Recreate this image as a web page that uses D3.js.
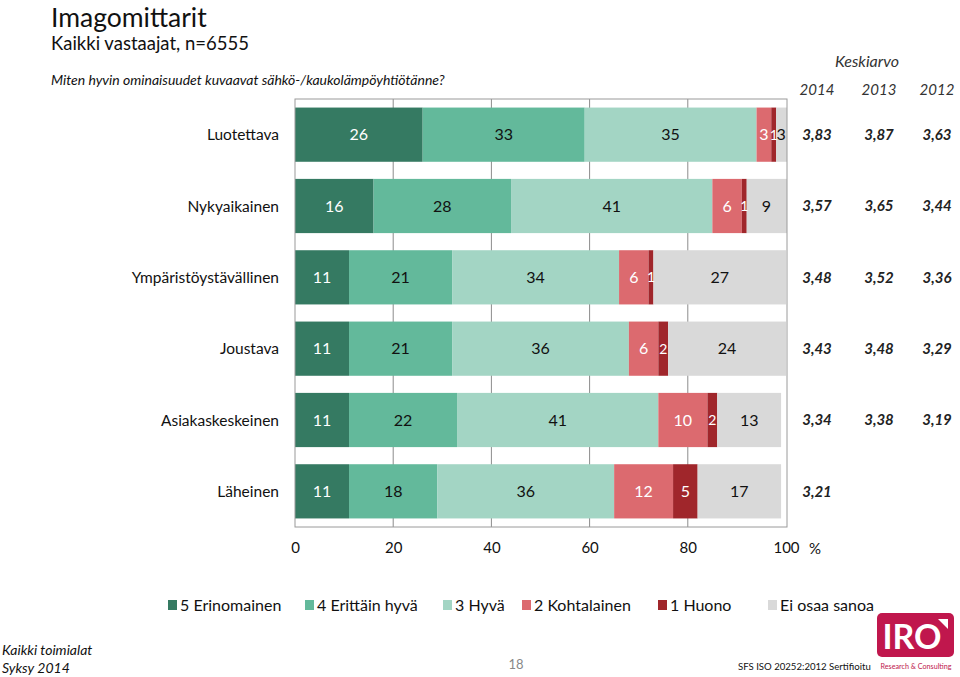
<!DOCTYPE html>
<html><head><meta charset="utf-8">
<script src="https://cdn.jsdelivr.net/npm/d3@7"></script>
<style>
body{margin:0;background:#fff;}
svg{display:block;font-family:Lato,"Open Sans",sans-serif;}
</style></head>
<body><svg id="c" width="960" height="677"></svg>
<script>
const categories = ["Luotettava","Nykyaikainen","Ympäristöystävällinen","Joustava","Asiakaskeskeinen","Läheinen"];
const seriesNames = ["5 Erinomainen","4 Erittäin hyvä","3 Hyvä","2 Kohtalainen","1 Huono","Ei osaa sanoa"];
const s5 = [26,16,11,11,11,11];
const s4 = [33,28,21,21,22,18];
const s3 = [35,41,34,36,41,36];
const s2 = [3,6,6,6,10,12];
const s1 = [1,1,1,2,2,5];
const sEOS = [3,9,27,24,13,17];
const years = ["2014","2013","2012"];
const mean2014 = ["3,83","3,57","3,48","3,43","3,34","3,21"];
const mean2013 = ["3,87","3,65","3,52","3,48","3,38",""];
const mean2012 = ["3,63","3,44","3,36","3,29","3,19",""];
const xTicks = [0,20,40,60,80,100];

const colors = ["#357a62","#63b99b","#a3d5c4","#dc6a6f","#a0262b","#d9d9d9"];
const labelColors = ["#fff","#111","#111","#fff","#fff","#111"];
const series = [s5,s4,s3,s2,s1,sEOS];

const svg = d3.select("#c");
const L=295, R=786, T=99, B=527;
const x = d3.scaleLinear().domain([0,100]).range([L,R]);
const y = d3.scaleBand().domain(categories).range([T,B]).paddingInner(0.24).paddingOuter(0.12);

// titles
svg.append("text").attr("x",51).attr("y",27).attr("font-size",26.5).attr("fill","#111").text("Imagomittarit");
svg.append("text").attr("x",51).attr("y",50).attr("font-size",18.5).attr("fill","#111").text("Kaikki vastaajat, n=6555");
svg.append("text").attr("x",51).attr("y",85).attr("font-size",14).attr("font-style","italic").attr("fill","#111").text("Miten hyvin ominaisuudet kuvaavat sähkö-/kaukolämpöyhtiötänne?");

// gridlines
svg.append("g").selectAll("line").data(xTicks.filter(d=>d>0&&d<100)).join("line")
  .attr("x1",d=>x(d)).attr("x2",d=>x(d)).attr("y1",T).attr("y2",B)
  .attr("stroke","#8c8c8c").attr("stroke-width",1);

// clip
svg.append("clipPath").attr("id","clip").append("rect").attr("x",L).attr("y",T).attr("width",R-L+1).attr("height",B-T);

// bars
const stackData = categories.map((c,i)=>{ const o={cat:c}; series.forEach((s,k)=>o["k"+k]=s[i]); return o;});
const stack = d3.stack().keys(series.map((s,k)=>"k"+k))(stackData);
const gBars = svg.append("g").attr("clip-path","url(#clip)");
stack.forEach((layer,k)=>{
  gBars.append("g").selectAll("rect").data(layer).join("rect")
    .attr("x",d=>x(d[0])).attr("width",d=>x(d[1])-x(d[0]))
    .attr("y",d=>y(d.data.cat)).attr("height",y.bandwidth())
    .attr("fill",colors[k]);
});
stack.forEach((layer,k)=>{
  svg.append("g").selectAll("text").data(layer).join("text")
    .attr("x",d=>(x(d[0])+x(Math.min(d[1],100)))/2).attr("y",d=>y(d.data.cat)+y.bandwidth()/2)
    .attr("dy","0.36em").attr("text-anchor","middle").attr("font-size",d=>(x(d[1])-x(d[0]))<10?14:16)
    .attr("fill",labelColors[k]).text(d=>d[1]-d[0]);
});

// frame
svg.append("rect").attr("x",L).attr("y",T).attr("width",R-L+1).attr("height",B-T)
  .attr("fill","none").attr("stroke","#9a9a9a").attr("stroke-width",1);

// category labels
svg.append("g").selectAll("text").data(categories).join("text")
  .attr("x",279).attr("y",d=>y(d)+y.bandwidth()/2).attr("dy","0.36em")
  .attr("text-anchor","end").attr("font-size",15.5).attr("fill","#111").text(d=>d);

// x axis
const ax = svg.append("g").attr("transform",`translate(0,${B})`).call(d3.axisBottom(x).tickValues(xTicks).tickSize(0).tickPadding(15));
ax.select(".domain").remove();
ax.selectAll("text").attr("font-size",15).attr("fill","#111").attr("font-family","Lato,sans-serif");
svg.append("text").attr("x",815).attr("y",B+22).attr("dy","0.36em").attr("text-anchor","middle").attr("font-size",15).attr("fill","#111").text("%");

// means
const meanX = [817,879,937];
svg.append("text").attr("x",867).attr("y",61).attr("dy","0.36em").attr("text-anchor","middle").attr("font-size",16).attr("font-style","italic").attr("fill","#333").text("Keskiarvo");
svg.append("g").selectAll("text").data(years).join("text")
  .attr("x",(d,i)=>meanX[i]).attr("y",90).attr("dy","0.36em").attr("text-anchor","middle")
  .attr("font-size",15).attr("font-style","italic").attr("fill","#333").text(d=>d);
[mean2014,mean2013,mean2012].forEach((arr,j)=>{
  svg.append("g").selectAll("text").data(arr.map((v,i)=>({v,c:categories[i]}))).join("text")
    .attr("x",meanX[j]).attr("y",d=>y(d.c)+y.bandwidth()/2).attr("dy","0.36em").attr("text-anchor","middle")
    .attr("font-size",15).attr("font-style","italic").attr("font-weight","bold").attr("fill","#222").text(d=>d.v);
});

// legend
const legX = [168,305,443,522,658,768];
const leg = svg.append("g").selectAll("g").data(seriesNames).join("g")
  .attr("transform",(d,i)=>`translate(${legX[i]},605)`);
leg.append("rect").attr("x",0).attr("y",-5).attr("width",9).attr("height",10).attr("fill",(d,i)=>colors[i]);
leg.append("text").attr("x",12).attr("y",0).attr("dy","0.36em").attr("font-size",16).attr("fill","#111").text(d=>d);

// footer
svg.append("text").attr("x",2).attr("y",655).attr("font-size",14).attr("font-style","italic").attr("fill","#111").text("Kaikki toimialat");
svg.append("text").attr("x",2).attr("y",673).attr("font-size",14).attr("font-style","italic").attr("fill","#111").text("Syksy 2014");
svg.append("text").attr("x",516).attr("y",669).attr("text-anchor","middle").attr("font-size",13).attr("fill","#888").text("18");
svg.append("text").attr("x",738).attr("y",670).attr("font-size",9.6).attr("fill","#111").text("SFS ISO 20252:2012 Sertifioitu");
// logo
const lg = svg.append("g");
lg.append("rect").attr("x",877).attr("y",613).attr("width",77).attr("height",44).attr("rx",5).attr("fill","#c0174d");
lg.append("text").attr("x",912).attr("y",649).attr("text-anchor","middle").attr("font-size",34).attr("font-weight","bold").attr("fill","#fff").text("IRO");
lg.append("path").attr("d","M938,619 L948,619 L948,629 Z").attr("fill","#fff");
lg.append("text").attr("x",916).attr("y",669).attr("text-anchor","middle").attr("font-size",7.2).attr("fill","#c0174d").text("Research & Consulting");
</script></body></html>
